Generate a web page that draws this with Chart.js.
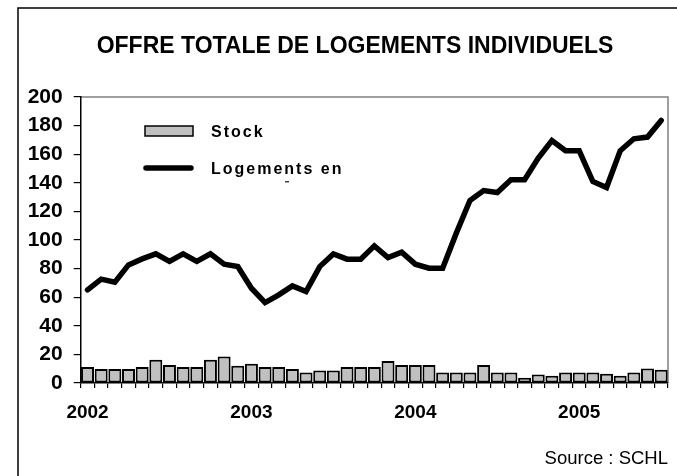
<!DOCTYPE html>
<html>
<head>
<meta charset="utf-8">
<script src="https://cdn.jsdelivr.net/npm/chart.js@4/dist/chart.umd.min.js"></script>
<style>
  html, body { margin: 0; padding: 0; background: #fff; }
  #wrap { width: 677px; height: 476px; position: relative; }
</style>
</head>
<body>
<div id="wrap"><canvas id="chart" width="677" height="476"></canvas></div>
<script>
// Monthly categories, Jan 2002 .. Jul 2005
const YEARS = ['2002', '2003', '2004', '2005'];
const MONTHS = [];
for (let i = 0; i < 43; i++) MONTHS.push(YEARS[Math.floor(i / 12)] + '-' + String(i % 12 + 1).padStart(2, '0'));

// Stock (bars)
const STOCK = [
  11.2, 9.8, 9.8, 9.8, 11.2, 16.3, 12.6, 11.2, 11.2, 16.3, 18.6, 12.1,
  13.5, 11.2, 11.2, 9.8, 7.4, 8.8, 8.8, 11.2, 11.2, 11.2, 15.3, 12.6,
  12.6, 12.6, 7.4, 7.4, 7.4, 12.6, 7.4, 7.4, 3.7, 6.0, 5.1, 7.4,
  7.4, 7.4, 6.5, 5.1, 7.4, 10.2, 9.3
];

// Logements en construction (line)
const CONSTRUCTION = [
  65.1, 72.6, 70.5, 82.6, 86.8, 90.3, 85.0, 90.3, 85.0, 90.3, 83.1, 81.4,
  66.3, 56.2, 61.6, 67.9, 63.9, 81.4, 90.3, 86.6, 86.6, 95.9, 87.7, 91.5,
  83.1, 80.3, 80.3, 104.8, 127.6, 134.6, 133.2, 142.1, 142.1, 157.3, 169.6, 162.4,
  162.4, 140.9, 136.7, 162.4, 170.8, 172.0, 183.6
];

const Y_TICKS = [0, 20, 40, 60, 80, 100, 120, 140, 160, 180, 200];

const FONT = 'Arial, "Liberation Sans", Helvetica, sans-serif';

// ── Frame, title, legend, source ──────────────────────────────
const decorPlugin = {
  id: 'decor',
  beforeDraw(chart) {
    const { ctx, chartArea: a } = chart;
    ctx.save();
    ctx.fillStyle = '#fff';
    ctx.fillRect(0, 0, chart.width, chart.height);
    // outer frame (left + top visible)
    ctx.strokeStyle = '#000';
    ctx.lineWidth = 1.5;
    ctx.beginPath();
    ctx.moveTo(18, chart.height + 2);
    ctx.lineTo(18, 8);
    ctx.lineTo(chart.width + 2, 8);
    ctx.stroke();
    // plot area border (grey top/right)
    ctx.strokeStyle = '#808080';
    ctx.lineWidth = 1.5;
    ctx.beginPath();
    ctx.moveTo(a.left, a.top);
    ctx.lineTo(a.right, a.top);
    ctx.lineTo(a.right, a.bottom);
    ctx.stroke();
    ctx.restore();
  },
  afterDraw(chart) {
    const { ctx } = chart;
    ctx.save();
    // title
    ctx.fillStyle = '#000';
    ctx.font = 'bold 23px ' + FONT;
    ctx.textAlign = 'center';
    ctx.textBaseline = 'middle';
    ctx.fillText('OFFRE TOTALE DE LOGEMENTS INDIVIDUELS', 355, 47);

    // legend
    ctx.fillStyle = '#c0c0c0';
    ctx.fillRect(145, 126, 48, 10);
    ctx.strokeStyle = '#000';
    ctx.lineWidth = 1.5;
    ctx.strokeRect(145, 126, 48, 10);
    ctx.lineCap = 'round';
    ctx.lineWidth = 5.5;
    ctx.beginPath();
    ctx.moveTo(146, 168);
    ctx.lineTo(191, 168);
    ctx.stroke();

    ctx.fillStyle = '#000';
    ctx.font = 'bold 16px ' + FONT;
    ctx.letterSpacing = '2px';
    ctx.textAlign = 'left';
    ctx.textBaseline = 'alphabetic';
    ctx.fillText('Stock', 211, 137);
    ctx.fillText('Logements en', 211, 174);
    ctx.letterSpacing = '0px';
    // clipped remainder of the second legend line
    ctx.fillStyle = '#444';
    ctx.fillRect(285, 181, 4, 1.5);

    // source
    ctx.fillStyle = '#000';
    ctx.font = '18.5px ' + FONT;
    ctx.textAlign = 'right';
    ctx.textBaseline = 'middle';
    ctx.fillText('Source : SCHL', 668, 459);
    ctx.restore();
  }
};

new Chart(document.getElementById('chart'), {
  type: 'bar',
  data: {
    labels: MONTHS,
    datasets: [
      {
        type: 'line',
        label: 'Logements en construction',
        data: CONSTRUCTION,
        borderColor: '#000',
        borderWidth: 5.5,
        borderJoinStyle: 'miter',
        borderCapStyle: 'round',
        pointRadius: 0,
        tension: 0,
        order: 0,
      },
      {
        type: 'bar',
        label: 'Stock',
        data: STOCK,
        backgroundColor: '#c0c0c0',
        borderColor: '#000',
        borderWidth: 2,
        borderSkipped: false,
        barPercentage: 0.95,
        categoryPercentage: 1.0,
        order: 1,
      },
    ],
  },
  options: {
    responsive: false,
    animation: false,
    devicePixelRatio: 1,
    layout: { padding: { left: 0, right: 9, top: 97, bottom: 43 } },
    plugins: {
      legend: { display: false },
      title: { display: false },
      tooltip: { enabled: false },
    },
    scales: {
      x: {
        offset: true,
        grid: {
          offset: true,
          drawOnChartArea: false,
          drawTicks: true,
          tickLength: 5,
          color: '#000',
          lineWidth: 1.2,
        },
        border: { display: true, color: '#000', width: 1.5 },
        ticks: {
          autoSkip: false,
          maxRotation: 0,
          minRotation: 0,
          padding: 13,
          color: '#000',
          font: { family: FONT, size: 19, weight: 'bold' },
          callback: (v, i) => (i % 12 === 0 ? YEARS[i / 12] : ''),
        },
        afterFit: s => { s.height = 50; },
      },
      y: {
        min: 0,
        max: 200,
        afterBuildTicks: s => { s.ticks = Y_TICKS.map(v => ({ value: v })); },
        grid: {
          drawOnChartArea: false,
          drawTicks: true,
          tickLength: 7,
          color: '#000',
          lineWidth: 1.2,
        },
        border: { display: true, color: '#000', width: 1.5 },
        ticks: {
          padding: 11,
          color: '#000',
          font: { family: FONT, size: 21, weight: 'bold' },
        },
        afterFit: s => { s.width = 80.7; },
      },
    },
  },
  plugins: [decorPlugin],
});
</script>
</body>
</html>
